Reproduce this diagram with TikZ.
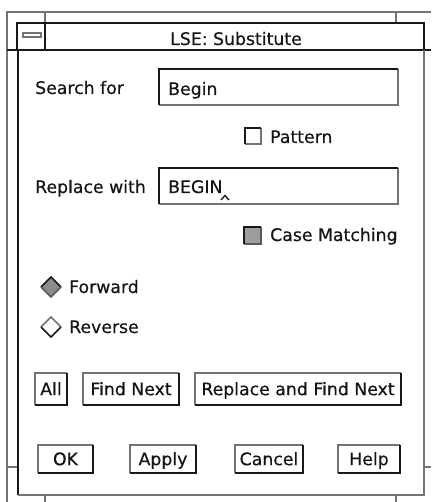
\documentclass[tikz,border=0pt]{standalone}
\usepackage{fontspec}
\setmainfont{DejaVu Sans}
\newfontfamily\uifont[FakeBold=0.4]{DejaVu Sans}
\begin{document}
\begin{tikzpicture}[x=1pt,y=-1pt,
  stip/.style={draw=black!55,line width=2pt},
  dark/.style={draw=black!90,line width=2pt},
  uitext/.style={inner sep=0pt,font=\uifont\fontsize{17.3}{19}\selectfont,text=black!92},
  lbl/.style={uitext,anchor=base west},
  btn/.style={uitext,fill=white,text height=12.4pt,text depth=0pt,minimum height=#1},
  field/.style={fill=white,inner sep=0pt,minimum height=36pt,minimum width=239pt}]
\useasboundingbox[fill=white] (0,0) rectangle (431,502);
% outer frame (resize border)
\draw[stip] (7,502) -- (7,12) -- (431,12);
\draw[stip] (45,12) -- (45,23);
\draw[stip] (396,12) -- (396,23);
\draw[stip] (7,467) -- (18,467);
\draw[stip] (424,467) -- (431,467);
\draw[stip] (45,495) -- (45,502);
\draw[stip] (396,495) -- (396,502);
% title bar
\draw[dark,line width=1.8pt] (17,50) -- (17,23) -- (424,23) -- (424,50);
\draw[dark,line width=1.8pt] (45,23) -- (45,50);
\draw[dark,line width=2.8pt] (7,50) -- (431,50);
\draw[stip,line width=1.4pt,fill=white] (23,33) rectangle (41,37);
\node[uitext,anchor=base] (title) at (236,45) {LSE: Substitute};
% content window
\draw[dark,line width=2.6pt] (18,50) -- (18,495);
\draw[stip] (18,495) -- (424,495) -- (424,50);
% search field
\node[field] (search) at (278.5,87) {};
\draw[stip] (search.north east) -- (search.south east) -- (search.south west);
\draw[dark] (search.south west) -- (search.north west) -- (search.north east);
\node[lbl] (searchlbl) at (35,94) {Search for};
\node[lbl] (searchtxt) at (168,95) {Begin};
% pattern checkbox
\draw[stip,line width=1.6pt] (261,128) -- (261,144) -- (245,144);
\draw[dark,line width=1.6pt] (245,144) -- (245,128) -- (261,128);
\node[lbl] (pattern) at (270,143) {Pattern};
% replace field
\node[field] (replace) at (278.5,186) {};
\draw[stip] (replace.north east) -- (replace.south east) -- (replace.south west);
\draw[dark] (replace.south west) -- (replace.north west) -- (replace.north east);
\node[lbl] (replacelbl) at (35,193) {Replace with};
\node[lbl] (replacetxt) at (168,193) {BEGIN};
\draw[black!90,line width=1.4pt] (221,200) -- (225,195.5) -- (229,200);
% case matching checkbox
\fill[black!38] (244,227) rectangle (261,244);
\draw[black!65,line width=1.5pt] (261,227) -- (261,244) -- (244,244);
\draw[dark,line width=1.6pt] (244,244) -- (244,227) -- (261,227);
\node[lbl] (casematch) at (270,241) {Case Matching};
% radio buttons
\fill[black!45] (41,287) -- (51,277) -- (61,287) -- (51,297) -- cycle;
\draw[black!90,line width=1.6pt] (41,287) -- (51,277) -- (61,287);
\draw[black!65,line width=1.6pt] (41,287) -- (51,297) -- (61,287);
\node[lbl] (forward) at (69,293) {Forward};
\draw[black!55,line width=1.6pt] (41,327) -- (51,317) -- (61,327);
\draw[black!90,line width=1.6pt] (41,327) -- (51,337) -- (61,327);
\node[lbl] (reverse) at (69,333) {Reverse};
% action buttons
\node[btn=32pt,minimum width=32pt] (all) at (51,389) {All};
\node[btn=32pt,minimum width=96pt] (findnext) at (131,389) {Find Next};
\node[btn=32pt,minimum width=206pt] (replfind) at (298,389) {Replace and Find Next};
\node[btn=28pt,minimum width=55pt] (ok) at (65.5,459) {OK};
\node[btn=28pt,minimum width=66pt] (apply) at (163,459) {Apply};
\node[btn=28pt,minimum width=68pt] (cancel) at (269,459) {Cancel};
\node[btn=28pt,minimum width=62pt] (help) at (369,459) {Help};
\foreach \b in {all,findnext,replfind,ok,apply,cancel,help}{
  \draw[stip,line width=1.6pt] (\b.south west) -- (\b.north west) -- (\b.north east);
  \draw[dark,line width=1.8pt] (\b.north east) -- (\b.south east) -- (\b.south west);
}
\end{tikzpicture}
\end{document}
